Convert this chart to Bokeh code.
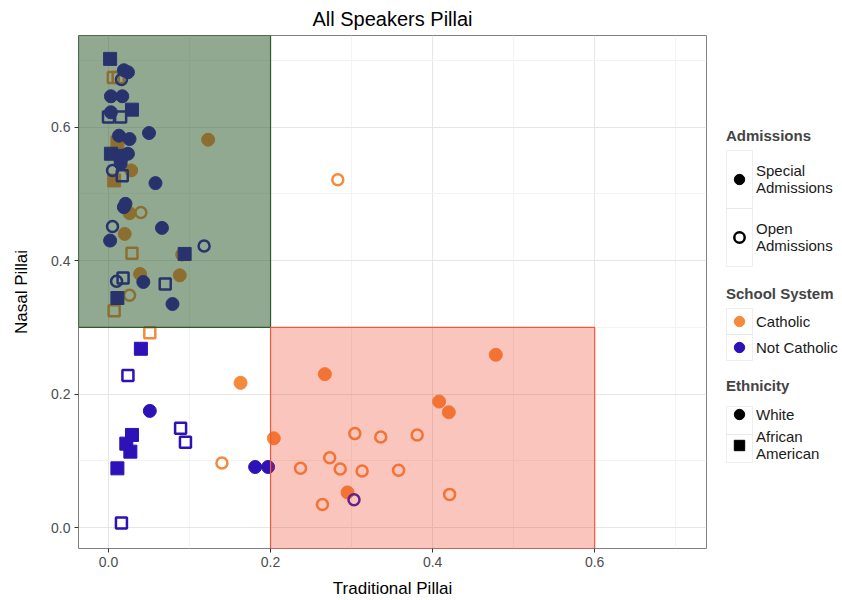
from bokeh.plotting import figure
from bokeh.layouts import row
from bokeh.models import Legend, LegendItem, FixedTicker, PrintfTickFormatter, Range1d, BoxAnnotation
from bokeh.embed import file_html
from bokeh.resources import INLINE

# Pillai scores (x = traditional, y = nasal) by school system, admissions and ethnicity
cath_special_white_x = [0.123, 0.028, 0.026, 0.020, 0.039, 0.091, 0.088, 0.163, 0.267, 0.478, 0.408, 0.420, 0.204, 0.295]
cath_special_white_y = [0.581, 0.535, 0.471, 0.440, 0.380, 0.409, 0.378, 0.217, 0.230, 0.259, 0.189, 0.173, 0.134, 0.053]
cath_special_aa_x = [0.011, 0.007]
cath_special_aa_y = [0.577, 0.520]
cath_open_white_x = [0.040, 0.026, 0.283, 0.140, 0.304, 0.336, 0.381, 0.273, 0.237, 0.286, 0.313, 0.358, 0.421, 0.264]
cath_open_white_y = [0.472, 0.348, 0.521, 0.097, 0.141, 0.136, 0.139, 0.105, 0.089, 0.088, 0.085, 0.086, 0.050, 0.035]
cath_open_aa_x = [0.006, 0.012, 0.029, 0.007, 0.051]
cath_open_aa_y = [0.674, 0.674, 0.411, 0.325, 0.292]

notcath_special_white_x = [0.019, 0.024, 0.003, 0.017, 0.003, 0.050, 0.013, 0.026, 0.024, 0.015, 0.058, 0.021, 0.019, 0.066, 0.002, 0.043, 0.079, 0.051, 0.181, 0.197]
notcath_special_white_y = [0.685, 0.682, 0.646, 0.646, 0.622, 0.591, 0.587, 0.582, 0.560, 0.545, 0.516, 0.485, 0.480, 0.449, 0.430, 0.368, 0.335, 0.175, 0.091, 0.091]
notcath_special_aa_x = [0.002, 0.029, 0.003, 0.015, 0.094, 0.011, 0.040, 0.029, 0.022, 0.027, 0.011]
notcath_special_aa_y = [0.702, 0.626, 0.560, 0.557, 0.410, 0.344, 0.268, 0.139, 0.126, 0.114, 0.089]
notcath_open_white_x = [0.016, 0.005, 0.005, 0.010, 0.118, 0.303]
notcath_open_white_y = [0.671, 0.535, 0.451, 0.369, 0.422, 0.042]
notcath_open_aa_x = [0.000, 0.015, 0.017, 0.018, 0.070, 0.024, 0.089, 0.095, 0.016]
notcath_open_aa_y = [0.615, 0.615, 0.527, 0.374, 0.365, 0.228, 0.149, 0.128, 0.007]

# Highlighted regions
nasal_cut = 0.3
trad_cut = 0.2
trad_max = 0.6

x_ticks = [0.0, 0.2, 0.4, 0.6]
y_ticks = [0.0, 0.2, 0.4, 0.6]
minor = [0.1, 0.3, 0.5, 0.7]

X_LO, X_HI = -0.037, 0.738
Y_LO, Y_HI = -0.031, 0.737

ORANGE = "#F58A3D"
BLUE = "#2D12B8"
FONT = "Liberation Sans"

p = figure(width=716, height=600, x_range=Range1d(X_LO, X_HI), y_range=Range1d(Y_LO, Y_HI),
           output_backend="svg", toolbar_location=None, title="All Speakers Pillai",
           min_border_left=78, min_border_right=10, min_border_top=35, min_border_bottom=52)

p.title.align = "center"
p.title.text_font = FONT
p.title.text_font_size = "20px"
p.title.text_font_style = "normal"
p.title.text_color = "#000000"
p.title.standoff = 11

p.background_fill_color = "white"
p.border_fill_color = "white"
p.outline_line_color = "#808080"
p.outline_line_width = 1

for ax, ticks, lab in ((p.xaxis[0], x_ticks, "Traditional Pillai"), (p.yaxis[0], y_ticks, "Nasal Pillai")):
    ax.ticker = FixedTicker(ticks=ticks, minor_ticks=minor)
    ax.formatter = PrintfTickFormatter(format="%.1f")
    ax.axis_label = lab
    ax.axis_label_text_font = FONT
    ax.axis_label_text_font_size = "17px"
    ax.axis_label_text_font_style = "normal"
    ax.axis_label_text_color = "#000000"
    ax.major_label_text_font = FONT
    ax.major_label_text_font_size = "14px"
    ax.major_label_text_color = "#4d4d4d"
    ax.axis_line_color = None
    ax.major_tick_line_color = "#333333"
    ax.major_tick_in = 0
    ax.major_tick_out = 4
    ax.minor_tick_line_color = None
    ax.major_label_standoff = 4
p.xaxis.axis_label_standoff = 9
p.yaxis.axis_label_standoff = 17

for g in (p.xgrid[0], p.ygrid[0]):
    g.grid_line_color = "#e6e6e6"
    g.grid_line_width = 1
    g.minor_grid_line_color = "#f3f3f3"

def pts(x, y, marker, color, filled):
    if filled:
        return p.scatter(x, y, marker=marker, size=13, fill_color=color, line_color=color, line_width=1)
    return p.scatter(x, y, marker=marker, size=11, fill_color=None, line_color=color, line_width=2.5)

pts(cath_special_white_x, cath_special_white_y, "circle", ORANGE, True)
pts(cath_special_aa_x, cath_special_aa_y, "square", ORANGE, True)
pts(cath_open_white_x, cath_open_white_y, "circle", ORANGE, False)
pts(cath_open_aa_x, cath_open_aa_y, "square", ORANGE, False)
pts(notcath_special_white_x, notcath_special_white_y, "circle", BLUE, True)
pts(notcath_special_aa_x, notcath_special_aa_y, "square", BLUE, True)
pts(notcath_open_white_x, notcath_open_white_y, "circle", BLUE, False)
pts(notcath_open_aa_x, notcath_open_aa_y, "square", BLUE, False)

# translucent regions drawn over the points
p.quad(left=[X_LO], right=[trad_cut], bottom=[nasal_cut], top=[Y_HI],
       fill_color="#235323", fill_alpha=0.5, line_color="#2e5a2e", line_width=1.2)
p.quad(left=[trad_cut], right=[trad_max], bottom=[Y_LO], top=[nasal_cut],
       fill_color="#f04020", fill_alpha=0.3, line_color="#f0583c", line_width=1.2)

# side panel holding the three legends
lf = figure(width=126, height=600, output_backend="svg", toolbar_location=None,
            x_axis_location=None, y_axis_location=None, min_border=0,
            x_range=Range1d(0, 1), y_range=Range1d(0, 1))
lf.grid.visible = False
lf.outline_line_color = None
lf.background_fill_color = "white"
lf.border_fill_color = "white"

# key glyphs: one point each, parked outside the visible range
def key(marker, color, filled):
    if filled:
        return lf.scatter([-5], [-5], marker=marker, fill_color=color, line_color=color)
    return lf.scatter([-5], [-5], marker=marker, fill_color=None, line_color=color, line_width=2.5)

k_special = key("circle", "black", True)
k_open = key("circle", "black", False)
k_cath = key("circle", ORANGE, True)
k_notcath = key("circle", BLUE, True)
k_white = key("circle", "black", True)
k_aa = key("square", "black", True)

KEY_X = 10
KEY_W = 26

def make_legend(title, items, base, heights):
    # grey frames around each key, stacked upward from the legend's bottom edge
    y = base
    for h in reversed(heights):
        lf.add_layout(BoxAnnotation(left=KEY_X, right=KEY_X + KEY_W, bottom=y, top=y + h,
                                    left_units="screen", right_units="screen",
                                    bottom_units="screen", top_units="screen",
                                    fill_color="white", fill_alpha=1.0,
                                    line_color="#c8c8c8", line_width=1, level="overlay"))
        y += h
    lg = Legend(title=title, items=[LegendItem(label=l, renderers=[r]) for l, r in items],
                location=(KEY_X, base), orientation="vertical")
    lg.title_text_font = FONT
    lg.title_text_font_size = "15px"
    lg.title_text_font_style = "bold"
    lg.title_standoff = 6
    lg.label_text_font = FONT
    lg.label_text_font_size = "15px"
    lg.label_text_color = "#1a1a1a"
    lg.label_text_line_height = 1.0
    lg.glyph_width = KEY_W
    lg.glyph_height = heights[0]
    lg.label_height = heights[0]
    lg.label_standoff = 4
    lg.spacing = 0
    lg.padding = 0
    lg.margin = 0
    lg.border_line_color = None
    lg.background_fill_alpha = 0
    lf.add_layout(lg, "center")

make_legend("Admissions", [("Special\nAdmissions", k_special), ("Open\nAdmissions", k_open)], 282, [58, 58])
make_legend("School System", [("Catholic", k_cath), ("Not Catholic", k_notcath)], 188, [26, 26])
make_legend("Ethnicity", [("White", k_white), ("African\nAmerican", k_aa)], 86, [28, 28])

layout = row(p, lf, spacing=0)
open("out.html", "w").write(file_html(layout, INLINE))
